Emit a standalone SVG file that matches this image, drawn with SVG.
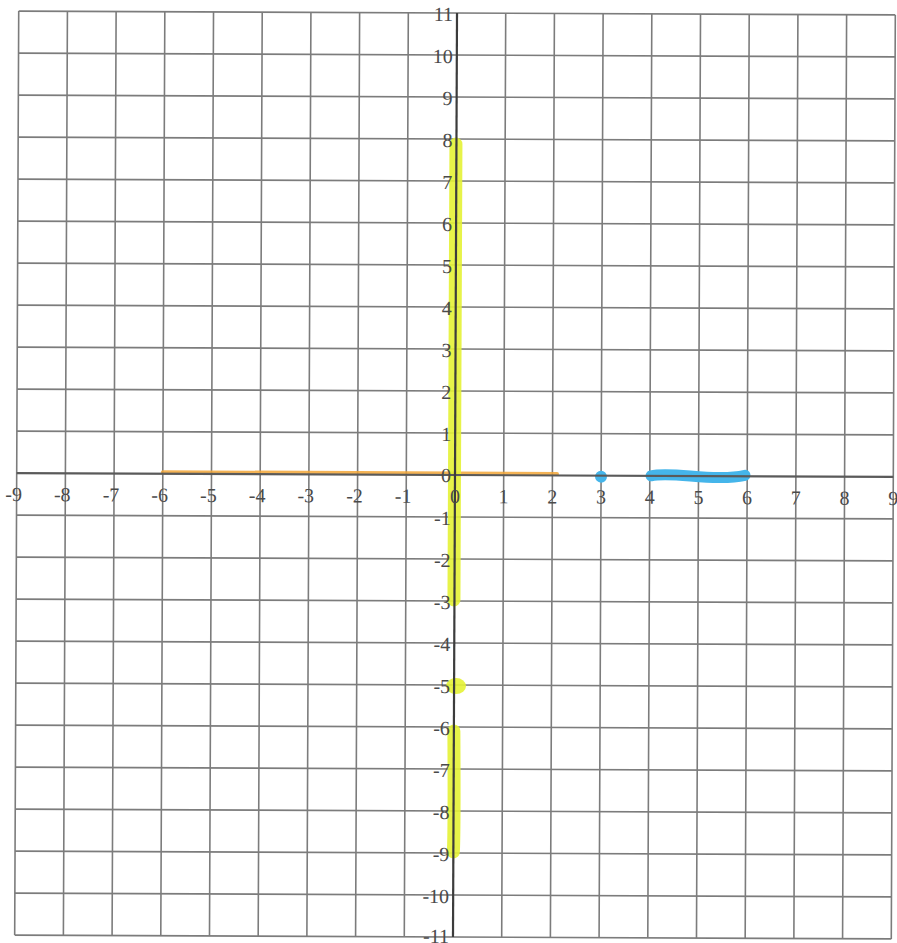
<svg xmlns="http://www.w3.org/2000/svg" width="897" height="943" viewBox="0 0 897 943">
<style>
.g{stroke:#7c7c7c;stroke-width:1.6;fill:none}
.ax{stroke:#5a5a5a;stroke-width:2.2;fill:none}
.ay{stroke:#3c3c3c;stroke-width:2.2;fill:none}
.ly{font-family:"Liberation Serif",serif;font-size:20px;fill:#4a4a4a;text-anchor:end}
.lx{font-family:"Liberation Serif",serif;font-size:20px;fill:#4a4a4a;text-anchor:middle}
</style>
<rect width="897" height="943" fill="#ffffff"/>
<g transform="rotate(0.25 455 475)">
<g id="grid">
<path class="g" d="M16.7 13V937M65.4 13V937M114.1 13V937M162.8 13V937M211.5 13V937M260.2 13V937M308.9 13V937M357.6 13V937M406.3 13V937M503.7 13V937M552.4 13V937M601.1 13V937M649.8 13V937M698.5 13V937M747.2 13V937M795.9 13V937M844.6 13V937M893.3 13V937"/>
<path class="g" d="M16.7 13H893.3M16.7 55H893.3M16.7 97H893.3M16.7 139H893.3M16.7 181H893.3M16.7 223H893.3M16.7 265H893.3M16.7 307H893.3M16.7 349H893.3M16.7 391H893.3M16.7 433H893.3M16.7 517H893.3M16.7 559H893.3M16.7 601H893.3M16.7 643H893.3M16.7 685H893.3M16.7 727H893.3M16.7 769H893.3M16.7 811H893.3M16.7 853H893.3M16.7 895H893.3M16.7 937H893.3"/>
</g>
<g id="highlights">
<path d="M162.8 473.5H557" stroke="#f2a637" stroke-width="4" stroke-linecap="round" opacity="0.85" fill="none"/>
<path d="M454.5 144V600" stroke="#e4f235" stroke-width="13" stroke-linecap="round" opacity="0.9" fill="none"/>
<ellipse cx="457" cy="686" rx="10" ry="8" fill="#e4f235" opacity="0.9"/>
<path d="M455 731C455.5 780 456 830 455 852" stroke="#e4f235" stroke-width="13" stroke-linecap="round" opacity="0.9" fill="none"/>
<circle cx="601" cy="476" r="6" fill="#45b5ea"/>
<path d="M651 475C672 470 715 481 745 474" stroke="#45b5ea" stroke-width="11" stroke-linecap="round" fill="none"/>
</g>
<g id="axes">
<path class="ax" d="M16.7 475H893.3"/>
<path class="ay" d="M455 13V937"/>
</g>
<g id="y-labels">
<text class="ly" x="451" y="21">11</text>
<text class="ly" x="451" y="63">10</text>
<text class="ly" x="451" y="105">9</text>
<text class="ly" x="451" y="147">8</text>
<text class="ly" x="451" y="189">7</text>
<text class="ly" x="451" y="231">6</text>
<text class="ly" x="451" y="273">5</text>
<text class="ly" x="451" y="315">4</text>
<text class="ly" x="451" y="357">3</text>
<text class="ly" x="451" y="399">2</text>
<text class="ly" x="451" y="441">1</text>
<text class="ly" x="451" y="482">0</text>
<text class="ly" x="451" y="525">-1</text>
<text class="ly" x="451" y="567">-2</text>
<text class="ly" x="451" y="609">-3</text>
<text class="ly" x="451" y="651">-4</text>
<text class="ly" x="451" y="693">-5</text>
<text class="ly" x="451" y="735">-6</text>
<text class="ly" x="451" y="777">-7</text>
<text class="ly" x="451" y="819">-8</text>
<text class="ly" x="451" y="861">-9</text>
<text class="ly" x="451" y="903">-10</text>
<text class="ly" x="451" y="943">-11</text>
</g>
<g id="x-labels">
<text class="lx" x="13.7" y="503">-9</text>
<text class="lx" x="62.4" y="503">-8</text>
<text class="lx" x="111.1" y="503">-7</text>
<text class="lx" x="159.8" y="503">-6</text>
<text class="lx" x="208.5" y="503">-5</text>
<text class="lx" x="257.2" y="503">-4</text>
<text class="lx" x="305.9" y="503">-3</text>
<text class="lx" x="354.6" y="503">-2</text>
<text class="lx" x="403.3" y="503">-1</text>
<text class="lx" x="455" y="503">0</text>
<text class="lx" x="503.7" y="503">1</text>
<text class="lx" x="552.4" y="503">2</text>
<text class="lx" x="601.1" y="503">3</text>
<text class="lx" x="649.8" y="503">4</text>
<text class="lx" x="698.5" y="503">5</text>
<text class="lx" x="747.2" y="503">6</text>
<text class="lx" x="795.9" y="503">7</text>
<text class="lx" x="844.6" y="503">8</text>
<text class="lx" x="893.3" y="503">9</text>
</g>
</g>
</svg>
